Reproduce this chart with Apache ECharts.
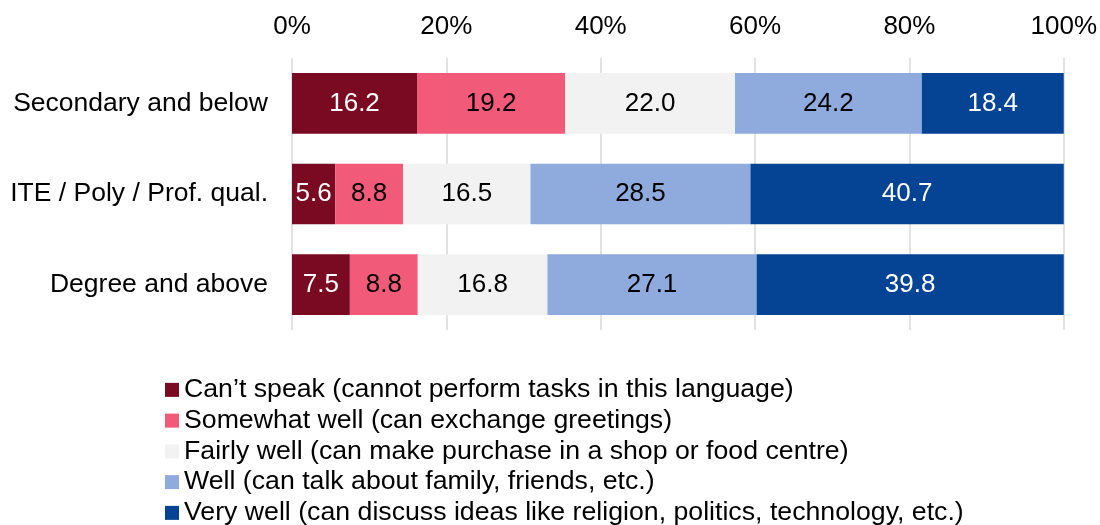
<!DOCTYPE html>
<html>
<head>
<meta charset="utf-8">
<script src="https://cdn.jsdelivr.net/npm/echarts@6/dist/echarts.min.js"></script>
<style>html,body{margin:0;padding:0;background:#fff}#c{width:1100px;height:525px}</style>
</head>
<body>
<div id="c"></div>
<script>
const categories = ['Secondary and below', 'ITE / Poly / Prof. qual.', 'Degree and above'];
const seriesNames = [
  'Can’t speak (cannot perform tasks in this language)',
  'Somewhat well (can exchange greetings)',
  'Fairly well (can make purchase in a shop or food centre)',
  'Well (can talk about family, friends, etc.)',
  'Very well (can discuss ideas like religion, politics, technology, etc.)'
];
const cantSpeak = [16.2, 5.6, 7.5];
const somewhatWell = [19.2, 8.8, 8.8];
const fairlyWell = [22.0, 16.5, 16.8];
const well = [24.2, 28.5, 27.1];
const veryWell = [18.4, 40.7, 39.8];
const xTicks = [0, 20, 40, 60, 80, 100];

const colors = ['#7A0A22', '#F25A7A', '#F2F2F2', '#8FAADC', '#054494'];
const labelColors = ['#ffffff', '#000000', '#000000', '#000000', '#ffffff'];
const values = [cantSpeak, somewhatWell, fairlyWell, well, veryWell];
const font = 'Liberation Sans, Arial, sans-serif';

const chart = echarts.init(document.getElementById('c'));
chart.setOption({
  animation: false,
  textStyle: { fontFamily: font },
  grid: { left: 292, right: 36, top: 58, bottom: 195, containLabel: false },
  legend: {
    orient: 'vertical',
    left: 165,
    top: 374.5,
    height: 160,
    width: 930,
    padding: 0,
    itemWidth: 14,
    itemHeight: 14,
    itemGap: 0,
    icon: 'rect',
    selectedMode: false,
    textStyle: { fontSize: 26.7, color: '#000', lineHeight: 30.75, fontFamily: font },
    data: seriesNames
  },
  xAxis: {
    type: 'value',
    position: 'top',
    min: xTicks[0],
    max: xTicks[xTicks.length - 1],
    interval: xTicks[1] - xTicks[0],
    axisLine: { show: false },
    axisTick: { show: false },
    axisLabel: { formatter: '{value}%', fontSize: 26, color: '#000', margin: 18, fontFamily: font },
    splitLine: { show: true, lineStyle: { color: '#D9D9D9', width: 1.5 } }
  },
  yAxis: {
    type: 'category',
    inverse: true,
    data: categories,
    axisLine: { show: false },
    axisTick: { show: false },
    axisLabel: { fontSize: 26.5, color: '#000', margin: 24, fontFamily: font }
  },
  series: seriesNames.map((name, i) => ({
    name: name,
    type: 'bar',
    stack: 'total',
    barWidth: '67%',
    data: values[i],
    itemStyle: { color: colors[i] },
    label: {
      show: true,
      position: 'inside',
      fontSize: 26,
      color: labelColors[i],
      fontFamily: font,
      formatter: p => p.value.toFixed(1)
    }
  }))
});
</script>
</body>
</html>
